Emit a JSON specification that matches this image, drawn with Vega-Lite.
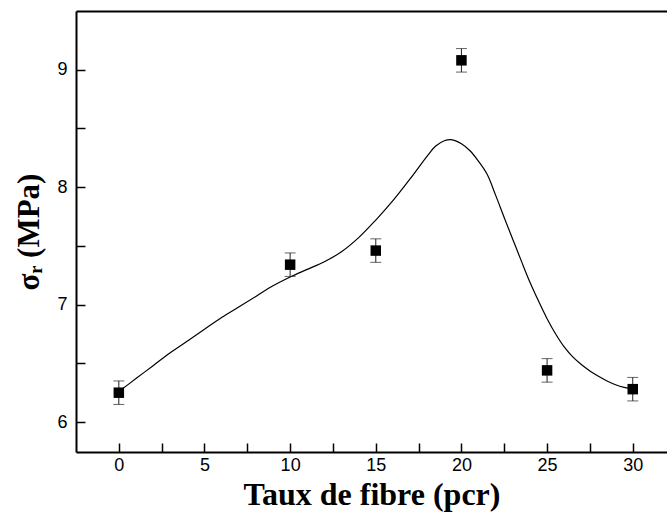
{
  "$schema": "https://vega.github.io/schema/vega-lite/v6.json",
  "width": 591,
  "height": 441,
  "autosize": "none",
  "padding": {"left": 76, "top": 11, "right": 0, "bottom": 69},
  "background": "white",
  "config": {
    "view": {"stroke": null},
    "axis": {
      "domainColor": "black",
      "domainWidth": 2,
      "tickColor": "black",
      "tickWidth": 1.5,
      "labelColor": "black",
      "labelFont": "Liberation Sans",
      "labelFontSize": 18,
      "titleFont": "Liberation Serif",
      "titleFontWeight": "bold",
      "titleColor": "black",
      "titleFontSize": 31,
      "grid": false
    }
  },
  "datasets": {
    "pts": [
      {"x": 0, "y": 6.25, "err": 0.1},
      {"x": 10, "y": 7.34, "err": 0.1},
      {"x": 15, "y": 7.46, "err": 0.1},
      {"x": 20, "y": 9.08, "err": 0.1},
      {"x": 25, "y": 6.44, "err": 0.1},
      {"x": 30, "y": 6.28, "err": 0.1}
    ],
    "curve": [
      {"x": 0, "y": 6.26}, {"x": 1, "y": 6.37}, {"x": 2, "y": 6.48}, {"x": 3, "y": 6.59},
      {"x": 4, "y": 6.69}, {"x": 5, "y": 6.79}, {"x": 6, "y": 6.89}, {"x": 7, "y": 6.98},
      {"x": 8, "y": 7.07}, {"x": 9, "y": 7.16}, {"x": 10, "y": 7.235}, {"x": 11, "y": 7.30},
      {"x": 12, "y": 7.365}, {"x": 13, "y": 7.45}, {"x": 14, "y": 7.57}, {"x": 15, "y": 7.72},
      {"x": 16, "y": 7.885}, {"x": 17, "y": 8.07}, {"x": 18, "y": 8.265}, {"x": 18.5, "y": 8.35},
      {"x": 19, "y": 8.395}, {"x": 19.4, "y": 8.405}, {"x": 20, "y": 8.37}, {"x": 20.5, "y": 8.31},
      {"x": 21, "y": 8.22}, {"x": 21.5, "y": 8.11}, {"x": 22, "y": 7.93}, {"x": 22.5, "y": 7.74},
      {"x": 23, "y": 7.555}, {"x": 23.5, "y": 7.37}, {"x": 24, "y": 7.19}, {"x": 24.5, "y": 7.03},
      {"x": 25, "y": 6.88}, {"x": 25.5, "y": 6.75}, {"x": 26, "y": 6.64}, {"x": 26.5, "y": 6.555},
      {"x": 27, "y": 6.49}, {"x": 27.5, "y": 6.435}, {"x": 28, "y": 6.39}, {"x": 28.5, "y": 6.35},
      {"x": 29, "y": 6.318}, {"x": 29.5, "y": 6.295}, {"x": 30, "y": 6.28}
    ]
  },
  "resolve": {"axis": {"x": "independent"}},
  "layer": [
    {
      "data": {"name": "curve"},
      "mark": {"type": "line", "interpolate": "catmull-rom", "color": "black", "strokeWidth": 1.2},
      "encoding": {
        "x": {
          "field": "x", "type": "quantitative",
          "scale": {"domain": [-2.5, 32], "nice": false, "zero": false},
          "axis": {
            "title": "Taux de fibre (pcr)",
            "titleFontSize": 32,
            "values": [0, 2.5, 5, 7.5, 10, 12.5, 15, 17.5, 20, 22.5, 25, 27.5, 30],
            "labelExpr": "datum.value % 5 === 0 ? format(datum.value, 'd') : ''",
            "tickSize": -9,
            "labelPadding": 13,
            "titleY": 52,
            "titleBaseline": "alphabetic",
            "encode": {"ticks": {"update": {"y2": {"signal": "datum.value % 5 === 0 ? -9 : -5"}}}}
          }
        },
        "y": {
          "field": "y", "type": "quantitative", "title": "σᵣ (MPa)",
          "scale": {"domain": [5.745, 9.5], "nice": false, "zero": false},
          "axis": {
            "values": [6, 6.5, 7, 7.5, 8, 8.5, 9],
            "labelExpr": "datum.value % 1 === 0 ? format(datum.value, 'd') : ''",
            "tickSize": -9,
            "labelPadding": 18,
            "titleX": -47,
            "titleY": 220.5,
            "titleBaseline": "middle",
            "encode": {"ticks": {"update": {"x2": {"signal": "datum.value % 1 === 0 ? 9 : 5"}}}}
          }
        }
      }
    },
    {
      "data": {"name": "pts"},
      "mark": {"type": "errorbar", "color": "#222", "thickness": 1, "ticks": {"size": 11, "color": "#222"}},
      "encoding": {
        "x": {"field": "x", "type": "quantitative", "scale": {"domain": [-2.5, 32], "nice": false, "zero": false}, "axis": null},
        "y": {"field": "y", "type": "quantitative", "title": "σᵣ (MPa)", "scale": {"domain": [5.745, 9.5], "nice": false, "zero": false}},
        "yError": {"field": "err"}
      }
    },
    {
      "data": {"name": "pts"},
      "mark": {"type": "point", "shape": "square", "filled": true, "color": "black", "opacity": 1, "size": 110},
      "encoding": {
        "x": {
          "field": "x", "type": "quantitative",
          "scale": {"domain": [-2.5, 32], "nice": false, "zero": false},
          "axis": {"orient": "top", "ticks": false, "labels": false, "title": null, "domain": true}
        },
        "y": {"field": "y", "type": "quantitative", "title": "σᵣ (MPa)", "scale": {"domain": [5.745, 9.5], "nice": false, "zero": false}}
      }
    }
  ]
}
